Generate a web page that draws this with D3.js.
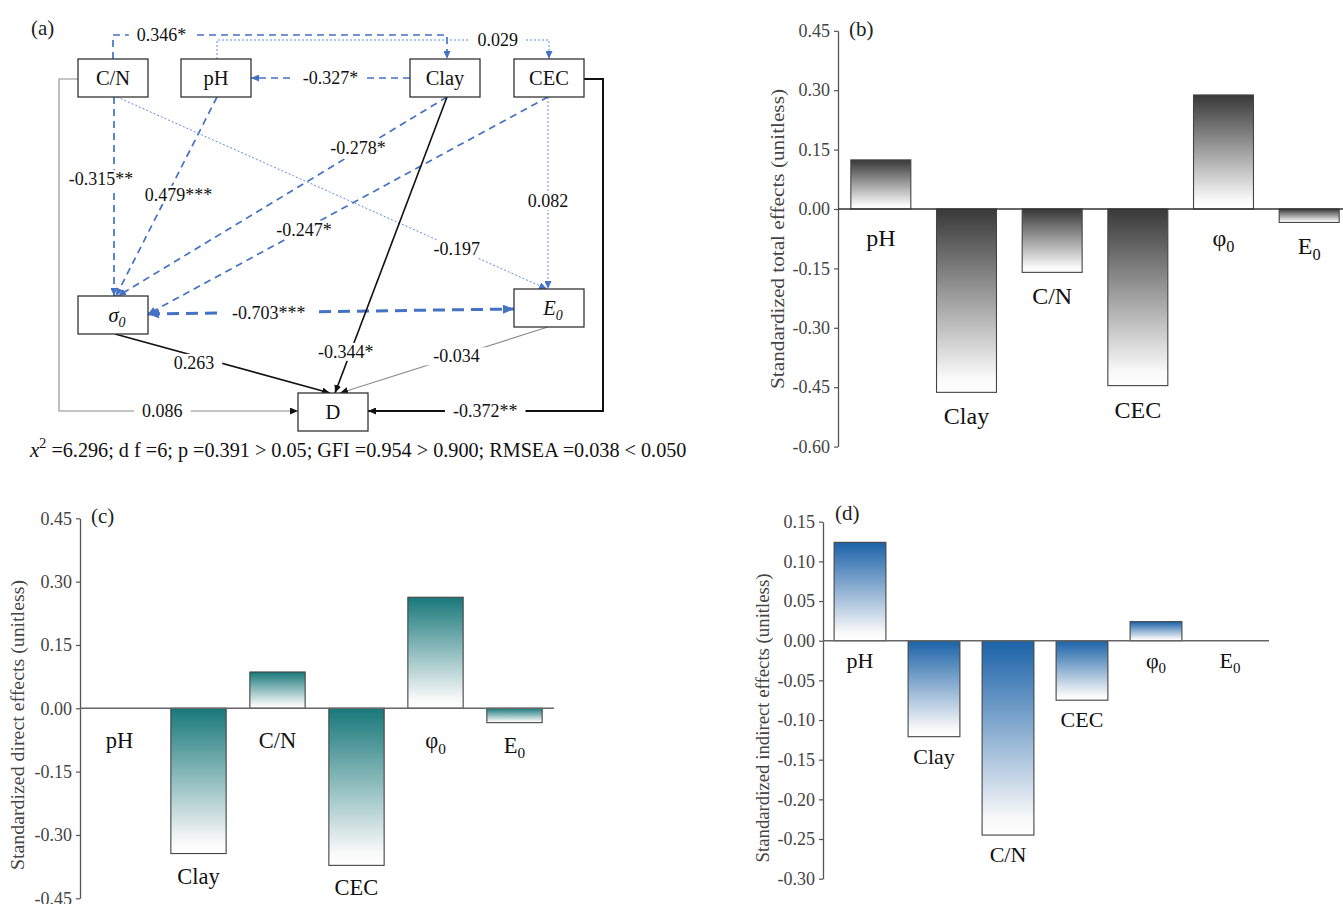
<!DOCTYPE html>
<html>
<head>
<meta charset="utf-8">
<script src="https://cdn.jsdelivr.net/npm/d3@7"></script>
<style>
  body { margin: 0; background: #fff; }
  svg text { font-family: "Liberation Serif", "Times New Roman", serif; }
</style>
</head>
<body>
<svg id="chart" width="1343" height="904"></svg>
<script>
// ---- bar chart data ----
var categories = ["pH", "Clay", "C/N", "CEC", "φ0", "E0"];
var totalEffects = [0.124, -0.463, -0.160, -0.446, 0.288, -0.034];
var directEffects = [0, -0.344, 0.086, -0.372, 0.263, -0.034];
var indirectEffects = [0.124, -0.121, -0.245, -0.075, 0.024, 0];
var totalTicks = [0.45, 0.30, 0.15, 0, -0.15, -0.30, -0.45, -0.60];
var directTicks = [0.45, 0.30, 0.15, 0, -0.15, -0.30, -0.45];
var indirectTicks = [0.15, 0.10, 0.05, 0, -0.05, -0.10, -0.15, -0.20, -0.25, -0.30];

// ---- path model data ----
var pathNodes = ["C/N", "pH", "Clay", "CEC", "σ0", "E0", "D"];
var pathFrom  = ["C/N", "pH", "Clay", "C/N", "pH", "Clay", "CEC", "C/N", "CEC", "σ0", "σ0", "Clay", "E0", "C/N", "CEC"];
var pathTo    = ["Clay", "CEC", "pH", "σ0", "σ0", "σ0", "σ0", "E0", "E0", "E0", "D", "D", "D", "D", "D"];
var pathCoefs = [0.346, 0.029, -0.327, -0.315, 0.479, -0.278, -0.247, -0.197, 0.082, -0.703, 0.263, -0.344, -0.034, 0.086, -0.372];
var pathStars = ["*", "", "*", "**", "***", "*", "*", "", "", "***", "", "*", "", "", "**"];
var fitNames  = ["d f", "p", "GFI", "RMSEA"];
var fitValues = ["6", "0.391 > 0.05", "0.954 > 0.900", "0.038 < 0.050"];
var chiSquare = "6.296";

const svg = d3.select("#chart");
const defs = svg.append("defs");

function addGrad(id, color) {
    const g = defs.append("linearGradient").attr("id", id)
        .attr("x1", 0).attr("y1", 0).attr("x2", 0).attr("y2", 1);
    g.append("stop").attr("offset", "0%").attr("stop-color", color);
    g.append("stop").attr("offset", "92%").attr("stop-color", "#f9f9f9");
    g.append("stop").attr("offset", "100%").attr("stop-color", "#ffffff");
}
addGrad("gTotal", "#383838");
addGrad("gDirect", "#18787a");
addGrad("gIndirect", "#1a62a8");

// label text with a subscript 0 for φ0 / E0 / σ0
function richLabel(sel, name, size, italic) {
    const last = name.slice(-1);
    if (last === "0" && name.length > 1) {
        sel.append("tspan").text(name.slice(0, -1))
            .attr("font-style", italic ? "italic" : null);
        sel.append("tspan").text("0")
            .attr("font-size", size * 0.68)
            .attr("dy", size * 0.25)
            .attr("font-style", italic ? "italic" : null);
    } else {
        sel.text(name);
    }
}

function barPanel(o) {
    const g = svg.append("g");
    const y = d3.scaleLinear().domain(o.domain).range(o.yRange);
    const x = d3.scaleBand().domain(categories).range(o.xRange)
        .paddingInner(0.3).paddingOuter(0.15);

    const axis = d3.axisLeft(y).tickValues(o.ticks).tickSize(4).tickSizeOuter(0)
        .tickPadding(4).tickFormat(d => d.toFixed(2));
    const ag = g.append("g").attr("transform", "translate(" + o.xRange[0] + ",0)").call(axis);
    ag.attr("font-family", null).attr("font-size", null);
    ag.select(".domain").attr("stroke", "#555").attr("stroke-width", 1.3);
    ag.selectAll(".tick line").attr("stroke", "#555").attr("stroke-width", 1.2);
    ag.selectAll(".tick text").attr("font-size", 18).attr("fill", "#444");

    const bars = categories.map((c, i) => ({ c: c, v: o.values[i] }));
    g.selectAll("rect.bar").data(bars.filter(d => d.v !== 0)).join("rect")
        .attr("class", "bar")
        .attr("x", d => x(d.c))
        .attr("width", x.bandwidth())
        .attr("y", d => y(Math.max(0, d.v)))
        .attr("height", d => Math.abs(y(d.v) - y(0)))
        .attr("fill", "url(#" + o.grad + ")")
        .attr("stroke", "#444")
        .attr("stroke-width", 1.1);

    g.append("line")
        .attr("x1", o.xRange[0]).attr("x2", o.zeroEnd)
        .attr("y1", y(0)).attr("y2", y(0))
        .attr("stroke", o.zeroColor).attr("stroke-width", 1.5);

    bars.forEach(d => {
        const base = d.v < 0 ? y(d.v) + o.gapNeg : y(0) + o.gapPos;
        const t = g.append("text")
            .attr("x", x(d.c) + x.bandwidth() / 2)
            .attr("y", base)
            .attr("text-anchor", "middle")
            .attr("font-size", o.catSize)
            .attr("fill", "#111");
        richLabel(t, d.c, o.catSize, false);
    });

    g.append("text").attr("x", o.tag[0]).attr("y", o.tag[1])
        .attr("font-size", 21).attr("fill", "#222").text(o.tagText);

    g.append("text")
        .attr("transform", "translate(" + o.yLabel[0] + "," + o.yLabel[1] + ") rotate(-90)")
        .attr("text-anchor", "middle")
        .attr("font-size", 18)
        .attr("textLength", o.yLabelLen)
        .attr("lengthAdjust", "spacingAndGlyphs")
        .attr("fill", "#444")
        .text(o.yLabelText);
}

barPanel({
    values: totalEffects, ticks: totalTicks, domain: [-0.60, 0.45], yRange: [446.6, 30.8],
    xRange: [838, 1352], zeroEnd: 1343, zeroColor: "#333", grad: "gTotal",
    catSize: 24, gapNeg: 32, gapPos: 37, tag: [849, 36], tagText: "(b)",
    yLabel: [784, 239], yLabelLen: 300, yLabelText: "Standardized total effects (unitless)"
});
barPanel({
    values: directEffects, ticks: directTicks, domain: [-0.45, 0.45], yRange: [898.3, 518.3],
    xRange: [80, 554], zeroEnd: 554, zeroColor: "#666", grad: "gDirect",
    catSize: 22.5, gapNeg: 30, gapPos: 40, tag: [91, 523], tagText: "(c)",
    yLabel: [24, 725], yLabelLen: 290, yLabelText: "Standardized direct effects (unitless)"
});
barPanel({
    values: indirectEffects, ticks: indirectTicks, domain: [-0.30, 0.15], yRange: [878.7, 521.7],
    xRange: [823, 1267], zeroEnd: 1269, zeroColor: "#666", grad: "gIndirect",
    catSize: 22, gapNeg: 27, gapPos: 27, tag: [835, 520], tagText: "(d)",
    yLabel: [769, 718], yLabelLen: 289, yLabelText: "Standardized  indirect effects (unitless)"
});

// ---- (a) path diagram ----
const nodeLayout = {
    "C/N": [113, 78], "pH": [216, 78], "Clay": [445, 78], "CEC": [549, 78],
    "σ0": [113, 315], "E0": [549, 308], "D": [333, 412]
};
const boxW = 70, boxH = 38;

function anchor(name, side, off) {
    const c = nodeLayout[name];
    if (side === "top") return [c[0] + off, c[1] - boxH / 2];
    if (side === "bottom") return [c[0] + off, c[1] + boxH / 2];
    if (side === "left") return [c[0] - boxW / 2, c[1] + off];
    return [c[0] + boxW / 2, c[1] + off];
}

// route and style of each path, same order as pathCoefs
const edgeLayout = [
    { a: ["top", 0], b: ["top", 2], up: 35, t: 0.19, s: "dash" },
    { a: ["top", 1], b: ["top", 0], up: 40, t: 0.81, s: "dot" },
    { a: ["left", 0], b: ["right", 0], t: 0.5, s: "dash" },
    { a: ["bottom", 1], b: ["top", 1], t: 0.41, s: "dash", off: [-13, 0] },
    { a: ["bottom", 1], b: ["top", 3], t: 0.49, s: "dash", off: [11, 0] },
    { a: ["bottom", 2], b: ["top", 5], t: 0.255, s: "dash", off: [-5, 0] },
    { a: ["bottom", -1], b: ["right", -1], t: 0.61, s: "dash" },
    { a: ["bottom", 4], b: ["top", -2], t: 0.79, s: "dot" },
    { a: ["bottom", -1], b: ["top", -1], t: 0.54, s: "dot" },
    { a: ["right", -1], b: ["left", 1], t: 0.33, s: "bold", both: true },
    { a: ["bottom", 2], b: ["top", -3], t: 0.40, s: "black", off: [-7, 5] },
    { a: ["bottom", 2], b: ["top", 2], t: 0.86, s: "black", off: [-5, 0] },
    { a: ["bottom", -1], b: ["top", 7], t: 0.44, s: "gray" },
    { a: ["left", 1], b: ["left", -1], side: 59, t: 0.77, s: "gray" },
    { a: ["right", 1], b: ["right", -1], side: 603, t: 0.80, s: "blackBold" }
];

const styles = {
    dash: { stroke: "#4472c4", width: 1.7, dash: "7,5", marker: "mBlue" },
    dot: { stroke: "#5b8fe0", width: 1, dash: "2,2", marker: "mBlue" },
    bold: { stroke: "#4472c4", width: 3, dash: "12,7", marker: "mBlueBig" },
    black: { stroke: "#111", width: 1.6, dash: null, marker: "mBlack" },
    blackBold: { stroke: "#111", width: 2, dash: null, marker: "mBlack" },
    gray: { stroke: "#8c8c8c", width: 1.1, dash: null, marker: "mBlack" }
};

function addMarker(id, color, w, h) {
    defs.append("marker").attr("id", id)
        .attr("viewBox", "0 0 " + w + " " + h)
        .attr("refX", w).attr("refY", h / 2)
        .attr("markerWidth", w).attr("markerHeight", h)
        .attr("markerUnits", "userSpaceOnUse")
        .attr("orient", "auto-start-reverse")
        .append("path").attr("d", "M0,0L" + w + "," + (h / 2) + "L0," + h + "Z")
        .attr("fill", color);
}
addMarker("mBlue", "#4472c4", 8, 7);
addMarker("mBlueBig", "#4472c4", 11, 9);
addMarker("mBlack", "#111", 8, 7);

const pa = svg.append("g");
const line = d3.line();
const edgeG = pa.append("g");
const labelG = pa.append("g");

pathCoefs.forEach((coef, i) => {
    const L = edgeLayout[i];
    const st = styles[L.s];
    const p0 = anchor(pathFrom[i], L.a[0], L.a[1]);
    const p1 = anchor(pathTo[i], L.b[0], L.b[1]);
    let pts;
    if (L.up !== undefined) pts = [p0, [p0[0], L.up], [p1[0], L.up], p1];
    else if (L.side !== undefined) pts = [p0, [L.side, p0[1]], [L.side, p1[1]], p1];
    else pts = [p0, p1];

    const path = edgeG.append("path")
        .attr("d", line(pts))
        .attr("fill", "none")
        .attr("stroke", st.stroke)
        .attr("stroke-width", st.width)
        .attr("stroke-dasharray", st.dash)
        .attr("marker-end", "url(#" + st.marker + ")");
    if (L.both) path.attr("marker-start", "url(#" + st.marker + ")");

    const node = path.node();
    const pt = node.getPointAtLength(node.getTotalLength() * L.t);
    const off = L.off || [0, 0];
    const txt = labelG.append("text")
        .attr("x", pt.x + off[0]).attr("y", pt.y + off[1])
        .attr("dy", "0.35em")
        .attr("text-anchor", "middle")
        .attr("font-size", 18)
        .attr("fill", "#111")
        .text(coef.toFixed(3) + pathStars[i]);
    const bb = txt.node().getBBox();
    labelG.insert("rect", "text")
        .attr("x", bb.x - 8).attr("y", bb.y + 1)
        .attr("width", bb.width + 16).attr("height", bb.height - 2)
        .attr("fill", "#fff");
});

// node boxes
pathNodes.forEach(n => {
    const c = nodeLayout[n];
    pa.append("rect")
        .attr("x", c[0] - boxW / 2).attr("y", c[1] - boxH / 2)
        .attr("width", boxW).attr("height", boxH)
        .attr("fill", "#fff").attr("stroke", "#333").attr("stroke-width", 1.3);
    const t = pa.append("text")
        .attr("x", c[0] + (n.slice(-1) === "0" ? 4 : 0)).attr("y", c[1] + 7)
        .attr("text-anchor", "middle")
        .attr("font-size", 20.5)
        .attr("fill", "#111");
    richLabel(t, n, 20.5, n.slice(-1) === "0");
});

pa.append("text").attr("x", 31).attr("y", 35).attr("font-size", 21).attr("fill", "#222").text("(a)");

const fit = pa.append("text").attr("x", 30).attr("y", 457).attr("font-size", 20.2).attr("fill", "#111");
fit.append("tspan").attr("font-style", "italic").attr("font-size", 21).text("x");
fit.append("tspan").attr("font-size", 14).attr("dy", -9).text("2");
fit.append("tspan").attr("dy", 9).text(" =" + chiSquare + "; " +
    fitNames.map((n, i) => n + " =" + fitValues[i]).join("; "));
</script>
</body>
</html>
